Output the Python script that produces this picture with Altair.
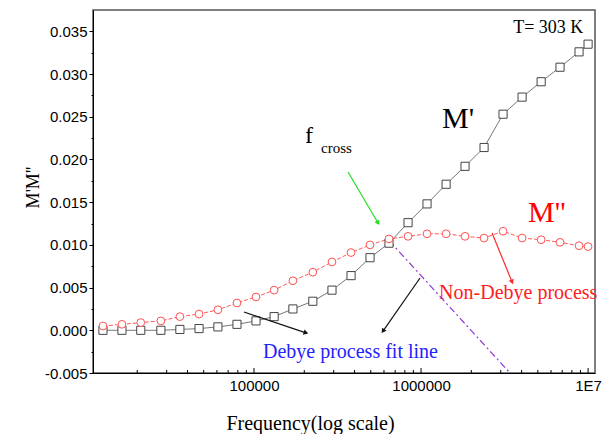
import altair as alt
import pandas as pd

# ---------------- data ----------------
freq = [12470, 16200, 21000, 27700, 36000, 46900, 60800, 79100, 102800, 132000,
        171000, 225000, 293000, 381000, 495000, 643000, 836000, 1086000, 1413000,
        1834000, 2384000, 3097000, 4027000, 5236000, 6792000, 8830000, 10000000]
m_real = [0.0000, 0.0000, 0.0000, 0.0000, 0.0001, 0.0002, 0.0004, 0.0007, 0.0011,
          0.0016, 0.0025, 0.0034, 0.0047, 0.0064, 0.0085, 0.0102, 0.0126, 0.0148,
          0.0171, 0.0192, 0.0214, 0.0253, 0.0273, 0.0291, 0.0308, 0.0326, 0.0335]
m_imag = [0.0005, 0.0007, 0.0009, 0.0011, 0.0016, 0.0019, 0.0024, 0.0032, 0.0039,
          0.0047, 0.0058, 0.0068, 0.0080, 0.0091, 0.0100, 0.0107, 0.0110, 0.0113,
          0.0113, 0.0110, 0.0108, 0.0116, 0.0108, 0.0106, 0.0103, 0.0099, 0.0098]

debye_f = [643000, 3410000]
debye_v = [0.0105, -0.0050]

arrow_f0 = [365600, 2661000, 986000, 87100]
arrow_v0 = [0.01853, 0.01139, 0.00612, 0.00214]
arrow_f1 = [553000, 3508000, 591900, 204700]
arrow_v1 = [0.01256, 0.00566, -0.0001, -0.0003]
arrow_colors = ["#22dd22", "#ff2a2a", "#111111", "#111111"]
arrow_angles = [149.5, 157.8, 214.9, 108.7]

label_texts = ["T= 303 K", "M'", "M''", "f", "cross", "Non-Debye process", "Debye process fit line"]
label_f = [3560000, 1336000, 4375000, 201900, 251800, 1283000, 113200]
label_v = [0.03481, 0.02369, 0.01268, 0.02193, 0.02076, 0.00366, -0.00324]
label_colors = ["#000000", "#000000", "#ff0000", "#000000", "#000000", "#ff2020", "#2222ff"]
label_sizes = [18, 30, 30, 24, 15, 20, 20]

x_major = [100000, 1000000, 10000000]
x_minor = [20000, 30000, 40000, 50000, 60000, 70000, 80000, 90000,
           200000, 300000, 400000, 500000, 600000, 700000, 800000, 900000,
           2000000, 3000000, 4000000, 5000000, 6000000, 7000000, 8000000, 9000000]
y_ticks = [-0.005, -0.0025, 0.0, 0.0025, 0.005, 0.0075, 0.01, 0.0125, 0.015, 0.0175,
           0.02, 0.0225, 0.025, 0.0275, 0.03, 0.0325, 0.035]

W, H = 502, 363

# ---------------- scales / axes ----------------
xscale = alt.Scale(type="log", domain=[10870, 11000000], nice=False)
yscale = alt.Scale(domain=[-0.005, 0.0375], nice=False, zero=False)

minor_test = "abs(datum.value*1000 - round(datum.value*200)*5) > 0.01"
xaxis = alt.Axis(values=x_major, title="Frequency(log scale)",
                 labelExpr="datum.value >= 1e7 ? '1E7' : format(datum.value, 'd')",
                 ticks=False, tickSize=0, labelPadding=5, grid=False,
                 labelFont="Liberation Sans", labelFontSize=15, labelColor="#000",
                 titleFont="Liberation Serif", titleFontSize=20, titleFontWeight="normal",
                 titleX=217, titleY=56, titleBaseline="alphabetic", titleAnchor="middle",
                 titleColor="#000", domainColor="#000")
yaxis = alt.Axis(values=y_ticks, title="M'M''",
                 labelExpr=f"({minor_test}) ? '' : (datum.value < -0.0001 ? '-' + format(-datum.value, '.3f') : format(abs(datum.value), '.3f'))",
                 tickSize={"condition": {"test": minor_test, "value": 2}, "value": 4},
                 tickColor="#000", labelPadding=2, grid=False,
                 labelFont="Liberation Sans", labelFontSize=15, labelColor="#000",
                 titleFont="Liberation Serif", titleFontSize=18, titleFontWeight="normal",
                 titleX=-60, titleY=177, titleAngle=270, titleBaseline="middle", titleAlign="center",
                 titleColor="#000", domainColor="#000")


def X(field="f"):
    return alt.X(f"{field}:Q", scale=xscale, axis=xaxis)


def Y(field="v"):
    return alt.Y(f"{field}:Q", scale=yscale, axis=yaxis)


df_r = pd.DataFrame({"f": freq, "v": m_real})
df_i = pd.DataFrame({"f": freq, "v": m_imag})
df_debye = pd.DataFrame({"f": debye_f, "v": debye_v})
df_arrow = pd.DataFrame({"f": arrow_f0, "v": arrow_v0, "f1": arrow_f1, "v1": arrow_v1,
                         "c": arrow_colors, "a": arrow_angles})
df_head = pd.DataFrame({"f": arrow_f1, "v": arrow_v1, "c": arrow_colors, "a": arrow_angles})
df_lab = pd.DataFrame({"f": label_f, "v": label_v, "t": label_texts, "c": label_colors,
                       "s": label_sizes})
df_xmaj = pd.DataFrame({"f": x_major})
df_xmin = pd.DataFrame({"f": x_minor})

line_r = alt.Chart(df_r).mark_line(color="#777777", strokeWidth=1).encode(x=X(), y=Y())
line_i = alt.Chart(df_i).mark_line(color="#ff5a5a", strokeWidth=1, strokeDash=[4, 2]).encode(x=X(), y=Y())
debye = alt.Chart(df_debye).mark_line(color="#9038d8", strokeWidth=1.2,
                                      strokeDash=[7, 3, 2, 3]).encode(x=X(), y=Y())
pts_r = alt.Chart(df_r).mark_point(shape="square", size=66, filled=True, fill="white",
                                   stroke="#444444", strokeWidth=1, opacity=1).encode(x=X(), y=Y())
pts_i = alt.Chart(df_i).mark_point(shape="circle", size=60, filled=True, fill="white",
                                   stroke="#ff5050", strokeWidth=1, opacity=1).encode(x=X(), y=Y())

arrows = alt.Chart(df_arrow).mark_rule(strokeWidth=1.2).encode(
    x=X(), y=Y(), x2="f1:Q", y2="v1:Q", color=alt.Color("c:N", scale=None))
heads = alt.Chart(df_head).mark_point(shape="triangle-up", filled=True, size=30, opacity=1).encode(
    x=X(), y=Y(), color=alt.Color("c:N", scale=None), angle=alt.Angle("a:Q", scale=None))

labels = alt.Chart(df_lab).mark_text(align="left", baseline="alphabetic",
                                     font="Liberation Serif").encode(
    x=X(), y=Y(), text="t:N", color=alt.Color("c:N", scale=None), size=alt.Size("s:Q", scale=None))

xt_major = alt.Chart(df_xmaj).mark_rule(color="#000", strokeWidth=1).encode(
    x=X(), y=alt.value(H), y2=alt.value(H - 5))
xt_minor = alt.Chart(df_xmin).mark_rule(color="#000", strokeWidth=1).encode(
    x=X(), y=alt.value(H), y2=alt.value(H - 3))

chart = alt.layer(line_r, line_i, debye, pts_r, pts_i, arrows, heads, labels, xt_major, xt_minor).properties(
    width=W, height=H,
    autosize=alt.AutoSizeParams(type="none"),
    padding={"left": 93, "top": 10, "right": 12, "bottom": 61},
).configure_view(stroke="#555555", strokeWidth=1.5)

chart.save("out.html", embed_options={"renderer": "svg", "actions": False})
